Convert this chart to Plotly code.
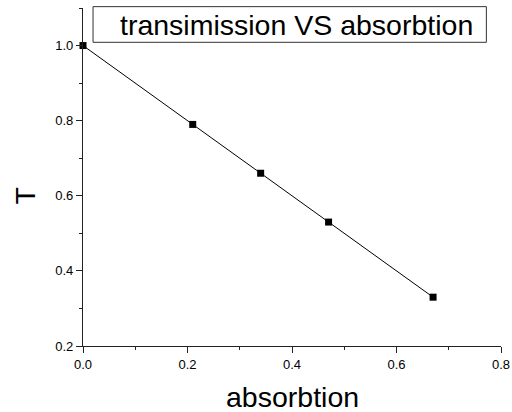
import plotly.graph_objects as go

absorbtion = [0.0, 0.21, 0.34, 0.47, 0.67]
transmission = [1.0, 0.79, 0.66, 0.53, 0.33]
legend_text = "transimission VS absorbtion"
x_title = "absorbtion"
y_title = "T"
x_ticks = [0.0, 0.2, 0.4, 0.6, 0.8]
y_ticks = [0.2, 0.4, 0.6, 0.8, 1.0]

FONT = "Liberation Sans, Arial, sans-serif"

fig = go.Figure()
fig.add_trace(go.Scatter(
    x=absorbtion, y=transmission, mode="lines+markers",
    line=dict(color="black", width=1),
    marker=dict(symbol="square", size=7, color="black"),
    name=legend_text, showlegend=False, cliponaxis=False,
))

axis_common = dict(
    showgrid=False, zeroline=False, showline=True, linecolor="#222", linewidth=1.2,
    ticks="outside", ticklen=6, tickwidth=1, tickcolor="#222",
    tickfont=dict(family=FONT, size=13, color="black"),
    minor=dict(ticks="outside", ticklen=3, tickwidth=1, tickcolor="#222", dtick=0.1),
    mirror=False, automargin=False,
)

fig.update_xaxes(range=[0, 0.8], tickvals=x_ticks, ticktext=[f"{v:.1f}" for v in x_ticks], **axis_common)
fig.update_yaxes(range=[0.2, 1.1], tickvals=y_ticks, ticktext=[f"{v:.1f}" for v in y_ticks], **axis_common)

fig.add_shape(type="rect", xref="paper", yref="paper",
              x0=0.024, x1=0.965, y0=0.8985, y1=1.004,
              line=dict(color="#333", width=1), fillcolor="white", layer="above")
fig.add_annotation(text=legend_text, xref="paper", yref="paper", x=0.510, y=0.951,
                   showarrow=False, xanchor="center", yanchor="middle",
                   font=dict(family=FONT, size=28.5, color="black"))
fig.add_annotation(text=x_title, xref="paper", yref="paper", x=0.5, y=-0.151,
                   showarrow=False, xanchor="center", yanchor="middle",
                   font=dict(family=FONT, size=28.5, color="black"))
fig.add_annotation(text=y_title, xref="paper", yref="paper", x=-0.1395, y=0.444,
                   showarrow=False, xanchor="center", yanchor="middle", textangle=-90,
                   font=dict(family=FONT, size=28.5, color="black"))

fig.update_layout(
    width=512, height=412,
    margin=dict(l=83, r=11, t=8, b=66, autoexpand=False),
    plot_bgcolor="white", paper_bgcolor="white",
    showlegend=False,
)

fig.write_html("out.html")
